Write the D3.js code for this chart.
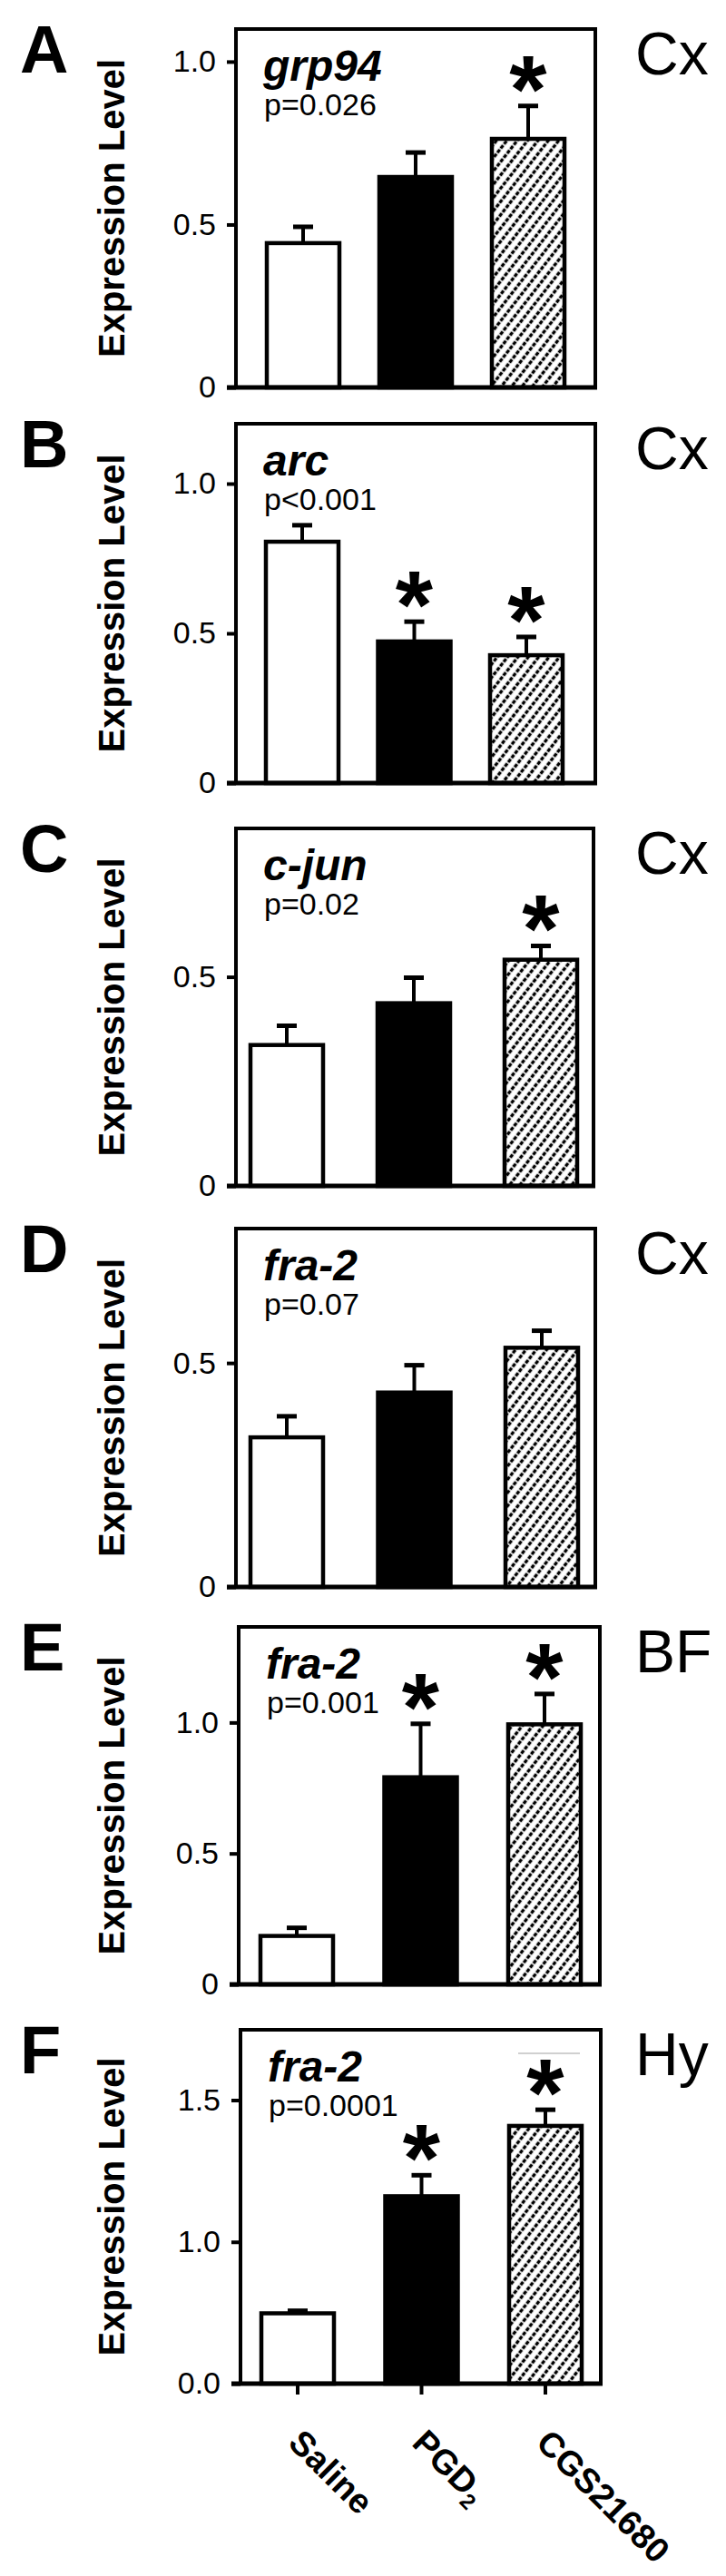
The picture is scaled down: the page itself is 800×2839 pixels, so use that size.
<!DOCTYPE html>
<html>
<head>
<meta charset="utf-8">
<script src="https://cdn.jsdelivr.net/npm/d3@7"></script>
<style>
  body { margin: 0; background: #fff; }
  text { font-family: "Liberation Sans", Arial, sans-serif; fill: #000; }
</style>
</head>
<body>
<div id="graf"></div>
<script>
// I. Datos
paneles  = ['A', 'B', 'C', 'D', 'E', 'F']
regiones = ['Cx', 'Cx', 'Cx', 'Cx', 'BF', 'Hy']
genes    = ['grp94', 'arc', 'c-jun', 'fra-2', 'fra-2', 'fra-2']
valoresP = ['p=0.026', 'p<0.001', 'p=0.02', 'p=0.07', 'p=0.001', 'p=0.0001']
grupos   = ['Saline', 'PGD2', 'CGS21680']

medias = [
  [0.443, 0.646, 0.763],
  [0.806, 0.473, 0.427],
  [0.337, 0.437, 0.541],
  [0.334, 0.434, 0.534],
  [0.185, 0.791, 0.993],
  [0.748, 1.161, 1.409]
]
errores = [
  [0.050, 0.075, 0.101],
  [0.055, 0.066, 0.061],
  [0.046, 0.061, 0.033],
  [0.047, 0.061, 0.038],
  [0.031, 0.204, 0.116],
  [0.009, 0.074, 0.057]
]
// asterisco de significancia
signif = [
  [0, 0, 1],
  [0, 1, 1],
  [0, 0, 1],
  [0, 0, 0],
  [0, 1, 1],
  [0, 1, 1]
]
yMin = [0, 0, 0, 0, 0, 0.5]
yMax = [1.1, 1.2, 0.855, 0.8, 1.365, 1.748]
yTicks = [
  [0, 0.5, 1.0],
  [0, 0.5, 1.0],
  [0, 0.5],
  [0, 0.5],
  [0, 0.5, 1.0],
  [0.5, 1.0, 1.5]
]
yTickLabels = [
  ['0', '0.5', '1.0'],
  ['0', '0.5', '1.0'],
  ['0', '0.5'],
  ['0', '0.5'],
  ['0', '0.5', '1.0'],
  ['0.0', '1.0', '1.5']
]

// II. Configuración
ancho_total = 800
alto_total = 2839

cajaTop  = [32, 467, 913, 1354, 1793, 2237]
cajaBot  = [427, 863, 1307, 1749, 2187, 2627]
cajaIzq  = [260, 260, 260, 260, 263, 265]
cajaDer  = [656, 656, 654, 656, 661, 662]
centros  = [[334, 457, 582], [333, 457, 580], [316, 455, 596],
            [316, 457, 597], [327, 460, 600], [328, 461, 601]]
anchoBarra = 80

svg = d3.select('#graf').append('svg')
        .attr('width', ancho_total)
        .attr('height', alto_total)

svg.append('rect')
   .attr('width', ancho_total).attr('height', alto_total)
   .attr('fill', '#fff')

// patrón rayado punteado (líneas diagonales de puntos)
pat = svg.append('defs').append('pattern')
         .attr('id', 'rayas')
         .attr('patternUnits', 'userSpaceOnUse')
         .attr('width', 9).attr('height', 6)
         .attr('patternTransform', 'rotate(38)')
pat.append('rect').attr('width', 9).attr('height', 6).attr('fill', '#fff')
pat.append('rect').attr('x', 2.8).attr('y', 0.8).attr('width', 3.4).attr('height', 4.4).attr('fill', '#000')

relleno = d3.scaleOrdinal().domain(grupos).range(['#fff', '#000', 'url(#rayas)'])

// III. render
function render(i) {
  top_ = cajaTop[i]
  bot = cajaBot[i]
  izq = cajaIzq[i]
  der = cajaDer[i]

  y = d3.scaleLinear().domain([yMin[i], yMax[i]]).range([bot, top_])
  paso = (centros[i][2] - centros[i][0]) / 2
  pad = 1 - anchoBarra / paso
  x = d3.scaleBand()
        .domain(grupos)
        .range([centros[i][0] - paso / 2, centros[i][2] + paso / 2])
        .paddingInner(pad)
        .paddingOuter(pad / 2)

  g = svg.append('g')

  datos = grupos.map((k, j) => ({ grupo: k, media: medias[i][j], err: errores[i][j], sig: signif[i][j] }))

  // barras
  g.selectAll('rect.barra')
   .data(datos)
   .enter().append('rect')
     .attr('class', 'barra')
     .attr('x', d => x(d.grupo))
     .attr('y', d => y(d.media))
     .attr('width', x.bandwidth())
     .attr('height', d => y(yMin[i]) - y(d.media))
     .attr('fill', d => relleno(d.grupo))
     .attr('stroke', '#000')
     .attr('stroke-width', 4.5)

  // barras de error (solo hacia arriba)
  g.selectAll('line.err')
   .data(datos)
   .enter().append('line')
     .attr('x1', d => x(d.grupo) + x.bandwidth() / 2)
     .attr('x2', d => x(d.grupo) + x.bandwidth() / 2)
     .attr('y1', d => y(d.media))
     .attr('y2', d => y(d.media + d.err))
     .attr('stroke', '#000').attr('stroke-width', 4)
  g.selectAll('line.cap')
   .data(datos)
   .enter().append('line')
     .attr('x1', d => x(d.grupo) + x.bandwidth() / 2 - 11)
     .attr('x2', d => x(d.grupo) + x.bandwidth() / 2 + 11)
     .attr('y1', d => y(d.media + d.err))
     .attr('y2', d => y(d.media + d.err))
     .attr('stroke', '#000').attr('stroke-width', 5)

  // asteriscos
  g.selectAll('text.star')
   .data(datos.filter(d => d.sig))
   .enter().append('text')
     .attr('x', d => x(d.grupo) + x.bandwidth() / 2)
     .attr('y', d => y(d.media + d.err) + 18)
     .attr('text-anchor', 'middle')
     .style('font-size', '106px')
     .style('font-weight', 'bold')
     .text('*')

  // marco
  g.append('path')
   .attr('d', `M${izq},${bot} V${top_} H${der} V${bot}`)
   .attr('fill', 'none').attr('stroke', '#000').attr('stroke-width', 4)
  g.append('line')
   .attr('x1', izq - 10).attr('x2', der + 2)
   .attr('y1', bot).attr('y2', bot)
   .attr('stroke', '#000').attr('stroke-width', 5)

  // eje y
  ejeY = g.append('g')
          .attr('transform', `translate(${izq}, 0)`)
          .call(d3.axisLeft(y)
                  .tickValues(yTicks[i])
                  .tickFormat((d, k) => yTickLabels[i][k])
                  .tickSize(10)
                  .tickPadding(12))
  ejeY.select('.domain').remove()
  ejeY.selectAll('line').attr('stroke', '#000').attr('stroke-width', 4)
  ejeY.selectAll('text').style('font-size', '34px').attr('font-family', null)

  // títulos
  g.append('text')
   .attr('x', 22).attr('y', top_ + 48)
   .style('font-size', '74px').style('font-weight', 'bold')
   .text(paneles[i])
  g.append('text')
   .attr('x', 700).attr('y', top_ + 50)
   .style('font-size', '66px')
   .text(regiones[i])
  g.append('text')
   .attr('x', izq + 30).attr('y', top_ + 57)
   .style('font-size', '48px').style('font-style', 'italic').style('font-weight', 'bold')
   .text(genes[i])
  g.append('text')
   .attr('x', izq + 31).attr('y', top_ + 95)
   .style('font-size', '34px')
   .text(valoresP[i])
  g.append('text')
   .attr('transform', `translate(137, ${(top_ + bot) / 2}) rotate(-90)`)
   .attr('text-anchor', 'middle')
   .style('font-size', '40px').style('font-weight', 'bold')
   .text('Expression Level')

  // eje x solo en el último panel
  if (i === paneles.length - 1) {
    g.selectAll('line.xtick')
     .data(grupos)
     .enter().append('line')
       .attr('x1', d => x(d) + x.bandwidth() / 2)
       .attr('x2', d => x(d) + x.bandwidth() / 2)
       .attr('y1', bot).attr('y2', bot + 12)
       .attr('stroke', '#000').attr('stroke-width', 4)
    etiquetas = g.selectAll('text.xlab')
     .data(grupos)
     .enter().append('text')
       .attr('transform', d => `translate(${x(d) + x.bandwidth() / 2 - 12}, ${bot + 67}) rotate(45)`)
       .style('font-size', '38px').style('font-weight', 'bold')
    etiquetas.each(function (d) {
      t = d3.select(this)
      if (d === 'PGD2') {
        t.append('tspan').text('PGD')
        t.append('tspan').text('2').style('font-size', '24px').attr('dy', 8)
      } else {
        t.text(d)
      }
    })
    // trazo gris tenue sobre la barra CGS21680
    g.append('line')
     .attr('x1', x('CGS21680') + 10).attr('x2', x('CGS21680') + x.bandwidth() - 2)
     .attr('y1', y(1.665)).attr('y2', y(1.665))
     .attr('stroke', '#d0d0d0').attr('stroke-width', 2)
  }
}

// IV. Despliegue
paneles.forEach((p, i) => render(i))
</script>
</body>
</html>
